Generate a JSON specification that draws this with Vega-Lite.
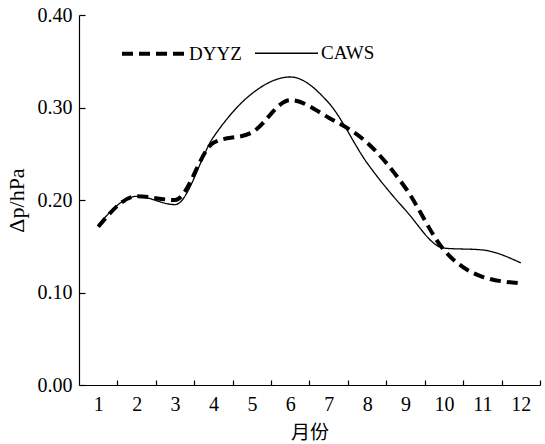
{
  "$schema": "https://vega.github.io/schema/vega-lite/v6.json",
  "width": 461,
  "height": 370,
  "autosize": {"type": "none"},
  "padding": {"left": 79, "top": 15, "right": 5, "bottom": 59},
  "background": "white",
  "config": {
    "view": {"stroke": null},
    "axis": {
      "domainColor": "black",
      "domainWidth": 1.2,
      "tickColor": "black",
      "tickWidth": 1.2,
      "labelColor": "black",
      "titleColor": "black",
      "labelFont": "Liberation Serif",
      "labelFontSize": 20,
      "grid": false
    }
  },
  "data": {
    "values": [
      {"month": 1, "series": "DYYZ", "dp": 0.171},
      {"month": 2, "series": "DYYZ", "dp": 0.204},
      {"month": 3, "series": "DYYZ", "dp": 0.200},
      {"month": 4, "series": "DYYZ", "dp": 0.262},
      {"month": 5, "series": "DYYZ", "dp": 0.273},
      {"month": 6, "series": "DYYZ", "dp": 0.308},
      {"month": 7, "series": "DYYZ", "dp": 0.289},
      {"month": 8, "series": "DYYZ", "dp": 0.262},
      {"month": 9, "series": "DYYZ", "dp": 0.213},
      {"month": 10, "series": "DYYZ", "dp": 0.146},
      {"month": 11, "series": "DYYZ", "dp": 0.117},
      {"month": 12, "series": "DYYZ", "dp": 0.110},
      {"month": 1, "series": "CAWS", "dp": 0.173},
      {"month": 2, "series": "CAWS", "dp": 0.204},
      {"month": 3, "series": "CAWS", "dp": 0.195},
      {"month": 4, "series": "CAWS", "dp": 0.268},
      {"month": 5, "series": "CAWS", "dp": 0.315},
      {"month": 6, "series": "CAWS", "dp": 0.333},
      {"month": 7, "series": "CAWS", "dp": 0.305},
      {"month": 8, "series": "CAWS", "dp": 0.240},
      {"month": 9, "series": "CAWS", "dp": 0.189},
      {"month": 10, "series": "CAWS", "dp": 0.148},
      {"month": 11, "series": "CAWS", "dp": 0.146},
      {"month": 12, "series": "CAWS", "dp": 0.132}
    ]
  },
  "mark": {"type": "line", "interpolate": "monotone", "color": "black"},
  "encoding": {
    "x": {
      "field": "month",
      "type": "quantitative",
      "scale": {"domain": [0.5, 12.5], "nice": false, "zero": false},
      "axis": {
        "values": [1, 2, 3, 4, 5, 6, 7, 8, 9, 10, 11, 12],
        "tickOffset": 19.2,
        "labelOffset": -19.2,
        "tickSize": -5,
        "labelPadding": 14,
        "title": "月份",
        "titleFont": "Noto Sans CJK SC",
        "titleFontSize": 19,
        "titleFontWeight": "normal",
        "titlePadding": 9
      }
    },
    "y": {
      "field": "dp",
      "type": "quantitative",
      "scale": {"domain": [0, 0.4], "nice": false},
      "axis": {
        "values": [0, 0.1, 0.2, 0.3, 0.4],
        "format": ".2f",
        "tickSize": -6,
        "labelPadding": 13,
        "title": "Δp/hPa",
        "titleFont": "Liberation Serif",
        "titleFontSize": 22,
        "titleFontWeight": "normal",
        "titlePadding": 9
      }
    },
    "strokeDash": {
      "field": "series",
      "type": "nominal",
      "scale": {"domain": ["DYYZ", "CAWS"], "range": [[11, 6], [1, 0]]},
      "legend": {
        "orient": "none",
        "legendX": 41,
        "legendY": 5,
        "direction": "horizontal",
        "title": null,
        "symbolType": "stroke",
        "symbolSize": 3969,
        "symbolStrokeColor": "black",
        "labelFont": "Liberation Serif",
        "labelFontSize": 19,
        "labelColor": "black",
        "labelOffset": 2,
        "columnPadding": 10
      }
    },
    "strokeWidth": {
      "field": "series",
      "type": "nominal",
      "scale": {"domain": ["DYYZ", "CAWS"], "range": [4, 1.3]},
      "legend": null
    }
  }
}
